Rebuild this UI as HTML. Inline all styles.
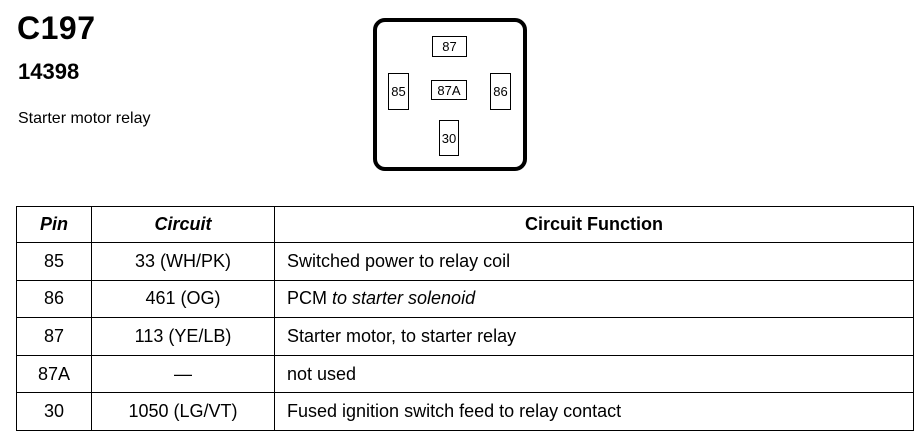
<!DOCTYPE html>
<html><head><style>
body{margin:0;width:924px;height:448px;background:#fff;position:relative;overflow:hidden;font-family:"Liberation Sans",Arial,sans-serif;color:#000}
.a{position:absolute}
.pin{position:absolute;border:1.5px solid #000;box-sizing:border-box;font-size:13px;display:flex;align-items:center;justify-content:center;background:#fff}
table{position:absolute;left:16px;top:206px;border-collapse:collapse;width:898px;table-layout:fixed}
td{border:1.5px solid #000;height:36.6px;padding:0;font-size:18px;text-align:center}
th{border:1.5px solid #000;height:35px;padding:0;font-size:18px;font-weight:bold;font-style:italic}
td.f{text-align:left;padding-left:12px}
</style></head><body>
<div class="a" style="left:17px;top:10px;font-size:32px;font-weight:bold;letter-spacing:0.5px">C197</div>
<div class="a" style="left:18px;top:59px;font-size:22px;font-weight:bold">14398</div>
<div class="a" style="left:18px;top:110px;font-size:16px">Starter motor relay</div>
<div class="a" style="left:373px;top:18px;width:154px;height:153px;border:4px solid #000;border-radius:12px;box-sizing:border-box"></div>
<div class="pin" style="left:432px;top:36px;width:35px;height:21px">87</div>
<div class="pin" style="left:388px;top:73px;width:21px;height:37px">85</div>
<div class="pin" style="left:431px;top:80px;width:36px;height:20px">87A</div>
<div class="pin" style="left:490px;top:73px;width:21px;height:37px">86</div>
<div class="pin" style="left:439px;top:120px;width:20px;height:36px">30</div>
<table>
<colgroup><col style="width:75px"><col style="width:183px"><col></colgroup>
<tr><th>Pin</th><th>Circuit</th><th style="font-style:normal">Circuit Function</th></tr>
<tr><td>85</td><td>33 (WH/PK)</td><td class="f">Switched power to relay coil</td></tr>
<tr><td>86</td><td>461 (OG)</td><td class="f">PCM <i>to starter solenoid</i></td></tr>
<tr><td>87</td><td>113 (YE/LB)</td><td class="f">Starter motor, to starter relay</td></tr>
<tr><td>87A</td><td>—</td><td class="f">not used</td></tr>
<tr><td>30</td><td>1050 (LG/VT)</td><td class="f">Fused ignition switch feed to relay contact</td></tr>
</table>
</body></html>
